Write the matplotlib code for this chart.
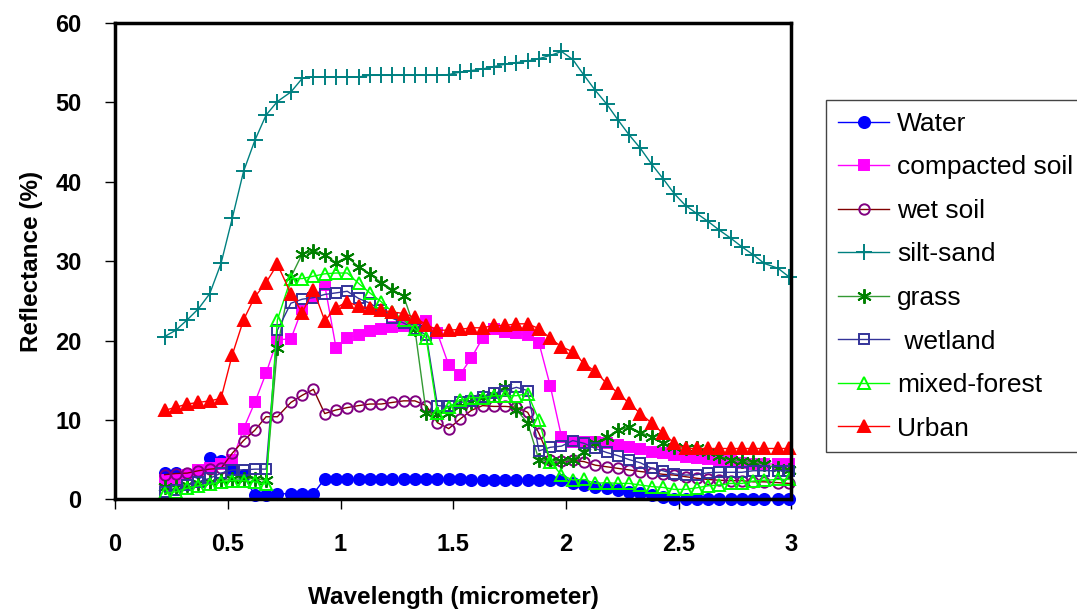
import matplotlib
matplotlib.use("Agg")
import matplotlib.pyplot as plt

plt.rcParams['font.family'] = ['Liberation Sans', 'DejaVu Sans']

# wavelength of each band (micrometer)
wavelength = [0.22, 0.27, 0.32, 0.37, 0.42, 0.47, 0.52, 0.57, 0.62, 0.67,
              0.72, 0.78, 0.83, 0.88, 0.93, 0.98, 1.03, 1.08, 1.13, 1.18,
              1.23, 1.28, 1.33, 1.38, 1.43, 1.48, 1.53, 1.58, 1.63, 1.68,
              1.73, 1.78, 1.83, 1.88, 1.93, 1.98, 2.03, 2.08, 2.13, 2.18,
              2.23, 2.28, 2.33, 2.38, 2.43, 2.48, 2.53, 2.58, 2.63, 2.68,
              2.73, 2.78, 2.83, 2.88, 2.94, 2.99]

water = [3.3, 3.3, 3.2, 3.5, 5.2, 4.8, 3.8, 3.0, 0.5, 0.5,
         0.7, 0.7, 0.7, 0.7, 2.6, 2.6, 2.6, 2.6, 2.6, 2.6,
         2.6, 2.6, 2.6, 2.6, 2.6, 2.6, 2.6, 2.4, 2.4, 2.4,
         2.4, 2.4, 2.4, 2.4, 2.4, 2.4, 2.1, 1.8, 1.6, 1.4,
         1.2, 0.95, 0.75, 0.55, 0.3, 0.1, 0.1, 0.1, 0.1, 0.1,
         0.1, 0.1, 0.1, 0.1, 0.1, 0.1]
compacted_soil = [2.4, 2.4, 3.0, 3.7, 3.9, 4.5, 4.9, 8.9, 12.2, 15.9,
                  20.1, 20.2, 24.0, 25.3, 27.0, 19.1, 20.3, 20.7, 21.2, 21.4,
                  21.7, 21.8, 22.0, 22.4, 20.9, 16.9, 15.7, 17.8, 20.3, 21.5,
                  21.1, 20.9, 20.7, 19.7, 14.3, 7.9, 7.2, 7.2, 7.2, 7.1,
                  6.85, 6.55, 6.3, 6.0, 5.8, 5.6, 5.3, 5.15, 5.05, 4.95,
                  4.8, 4.6, 4.5, 4.5, 4.4, 4.4]
wet_soil = [3.1, 3.25, 3.3, 3.6, 3.8, 3.9, 5.8, 7.4, 8.7, 10.4,
            10.4, 12.2, 13.1, 13.85, 10.8, 11.25, 11.55, 11.8, 12.0, 12.0,
            12.2, 12.4, 12.4, 11.8, 9.65, 8.9, 10.1, 11.2, 11.8, 11.7,
            11.7, 11.6, 10.95, 8.3, 5.0, 4.8, 4.9, 4.75, 4.3, 4.1,
            3.9, 3.7, 3.5, 3.35, 3.15, 3.05, 2.85, 2.65, 2.5, 2.4,
            2.35, 2.35, 2.2, 2.2, 2.1, 2.0]
silt_sand = [20.5, 21.3, 22.6, 24.0, 25.9, 29.7, 35.4, 41.3, 45.2, 48.4,
             50.1, 51.3, 53.0, 53.2, 53.2, 53.2, 53.2, 53.2, 53.4, 53.4,
             53.4, 53.4, 53.4, 53.4, 53.4, 53.5, 53.8, 54.0, 54.2, 54.5,
             54.8, 55.0, 55.2, 55.5, 55.9, 56.4, 55.4, 53.4, 51.5, 49.8,
             47.8, 45.9, 44.2, 42.2, 40.4, 38.5, 37.0, 36.0, 35.0, 33.9,
             32.9, 31.8, 30.8, 29.7, 29.1, 28.0]
grass = [1.5, 1.6, 1.8, 2.0, 2.2, 2.4, 2.5, 2.6, 2.6, 2.4,
         19.1, 28.0, 30.9, 31.3, 30.8, 29.8, 30.5, 29.3, 28.4, 27.3,
         26.4, 25.6, 21.4, 10.9, 10.8, 10.9, 11.75, 12.3, 12.9, 13.1,
         14.2, 11.3, 9.6, 4.95, 4.85, 4.85, 5.0, 6.0, 7.05, 7.8,
         8.7, 9.15, 8.4, 7.9, 7.1, 6.6, 6.4, 6.4, 6.0, 5.4,
         5.0, 4.8, 4.65, 4.4, 3.9, 3.7]
wetland = [0.95, 1.2, 1.8, 2.2, 2.65, 3.3, 3.7, 3.7, 3.8, 3.8,
           21.3, 24.7, 25.2, 25.4, 25.8, 26.0, 26.2, 25.3, 24.7, 23.8,
           22.8, 22.2, 21.5, 20.7, 11.8, 11.7, 12.2, 12.4, 12.9, 13.35,
           13.7, 14.1, 13.7, 6.1, 6.55, 6.7, 7.4, 7.05, 6.4, 5.9,
           5.5, 5.0, 4.6, 3.9, 3.6, 3.2, 3.05, 3.1, 3.35, 3.4,
           3.4, 3.4, 3.6, 3.6, 3.6, 3.6]
mixed_forest = [0.75, 0.95, 1.4, 1.7, 1.9, 2.2, 2.35, 2.35, 2.2, 1.9,
                22.6, 27.8, 27.8, 28.1, 28.4, 28.5, 28.5, 27.2, 26.0, 24.9,
                23.6, 22.6, 21.4, 20.3, 10.9, 11.6, 12.5, 12.8, 12.8, 13.05,
                13.05, 13.05, 13.3, 10.0, 4.75, 3.05, 2.45, 2.5, 2.0, 2.1,
                2.0, 2.0, 1.8, 1.6, 1.5, 1.25, 1.25, 1.45, 1.7, 1.8,
                2.0, 2.0, 2.3, 2.4, 2.5, 2.5]
urban = [11.2, 11.6, 12.0, 12.2, 12.4, 12.7, 18.2, 22.6, 25.5, 27.3,
         29.6, 25.9, 23.5, 26.4, 22.5, 24.1, 24.9, 24.3, 24.1, 23.8,
         23.6, 23.4, 22.9, 22.0, 21.3, 21.3, 21.4, 21.6, 21.6, 21.9,
         21.9, 22.1, 22.1, 21.5, 20.3, 19.2, 18.6, 17.1, 16.1, 14.6,
         13.4, 12.1, 10.8, 9.6, 8.3, 7.1, 6.4, 6.4, 6.4, 6.4,
         6.4, 6.4, 6.4, 6.4, 6.4, 6.4]

x_ticks = [0, 0.5, 1, 1.5, 2, 2.5, 3]
x_tick_labels = ['0', '0.5', '1', '1.5', '2', '2.5', '3']
y_ticks = [0, 10, 20, 30, 40, 50, 60]

fig = plt.figure(figsize=(10.77, 6.11), dpi=100)
ax = fig.add_axes([0.1068, 0.1828, 0.6281, 0.7797])

# label, values, marker, size, marker face, marker edge, line colour
series = [
    ('Water', water, 'o', 8, '#0000FF', '#0000FF', '#0000FF'),
    ('compacted soil', compacted_soil, 's', 7, '#FF00FF', '#FF00FF', '#FF00FF'),
    ('wet soil', wet_soil, 'o', 7.5, 'none', '#800080', '#800000'),
    ('silt-sand', silt_sand, '+', 11, '#008080', '#008080', '#008080'),
    ('grass', grass, (6, 2, 0), 10.5, '#008000', '#008000', '#339933'),
    (' wetland', wetland, 's', 6.5, 'none', '#333399', '#333399'),
    ('mixed-forest', mixed_forest, '^', 8, 'none', '#00FF00', '#00FF00'),
    ('Urban', urban, '^', 8.5, '#FF0000', '#FF0000', '#FF0000'),
]

for label, vals, mk, ms, mfc, mec, lc in series:
    ax.plot(wavelength, vals, color=lc, lw=1, marker=mk, ms=ms,
            mfc=mfc, mec=mec, mew=1.4, label=label, clip_on=False)

ax.set_xlim(0, 3)
ax.set_ylim(0, 60)
ax.set_xticks(x_ticks)
ax.set_xticklabels(x_tick_labels)
ax.set_yticks(y_ticks)
for s in ax.spines.values():
    s.set_linewidth(2.5)
ax.tick_params(direction='out', length=7, width=1, pad=17, labelsize=17)
for t in ax.get_xticklabels() + ax.get_yticklabels():
    t.set_fontweight('bold')

ax.set_xlabel('Wavelength (micrometer)', fontsize=17.5, fontweight='bold', labelpad=22)
ax.set_ylabel('Reflectance (%)', fontsize=17.5, fontweight='bold', labelpad=9)

leg = ax.legend(loc='upper left', bbox_to_anchor=(826 / 1077, 1 - 100 / 611),
                bbox_transform=fig.transFigure, fontsize=19, frameon=True,
                fancybox=False, edgecolor='#444444', framealpha=1,
                handlelength=1.95, handletextpad=0.3, labelspacing=0.74,
                borderpad=0.45, borderaxespad=0)
leg.get_frame().set_linewidth(1)

fig.savefig('out.png', dpi=100)
